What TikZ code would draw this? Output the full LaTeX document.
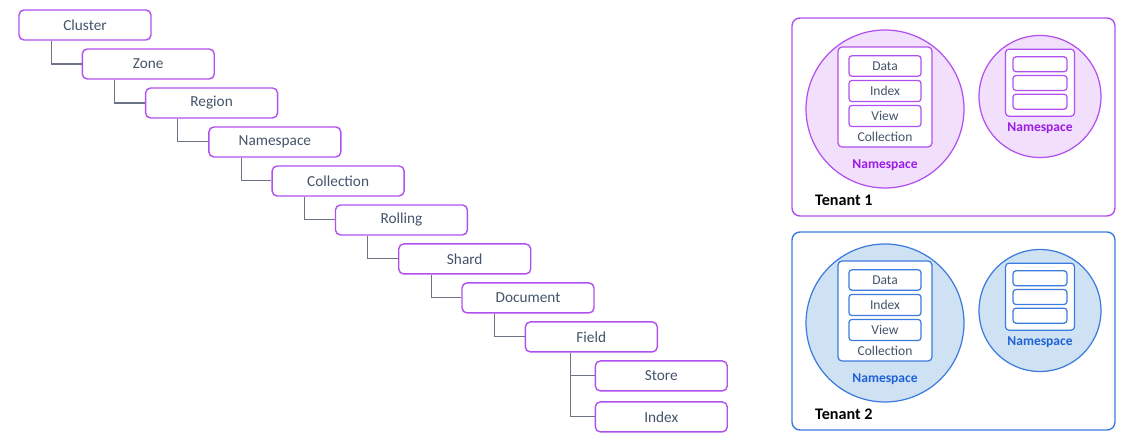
\documentclass[tikz,border=0pt]{standalone}
\usepackage{fontspec}
\setmainfont{Carlito}
\usetikzlibrary{positioning}

\definecolor{purpdraw}{HTML}{B150F0}
\definecolor{purpfill}{HTML}{F1DFFB}
\definecolor{purptext}{HTML}{9B1BE6}
\definecolor{bludraw}{HTML}{3C7BDE}
\definecolor{blufill}{HTML}{CFE2F3}
\definecolor{blutext}{HTML}{1F62D9}
\definecolor{labelgray}{HTML}{44546A}
\definecolor{linegray}{HTML}{6B7385}

\begin{document}
\begin{tikzpicture}[
    x=0.02cm, y=-0.02cm,
    node distance=0.78cm and 1.266cm,
    on grid,
    level/.style={draw=purpdraw, line width=0.8pt, rounded corners=0.1cm, fill=white,
        minimum width=2.64cm, minimum height=0.6cm, font=\fontsize{8.7}{10}\selectfont, text=labelgray},
    link/.style={draw=linegray, line width=0.6pt},
    tenant/.style={line width=0.8pt, rounded corners=0.16cm},
    part/.style={line width=0.7pt, rounded corners=0.06cm, fill=white,
        font=\fontsize{7.7}{9}\selectfont, text=labelgray},
    nslabel/.style={font=\fontsize{7.7}{9}\selectfont\bfseries}
]
   \useasboundingbox (0,0) rectangle (1132,445);

   % Hierarchy
   \node[level] (cluster) at (85,25) {Cluster};
   \node[level] (zone) [below right=of cluster] {Zone};
   \node[level] (region) [below right=of zone] {Region};
   \node[level] (namespace) [below right=of region] {Namespace};
   \node[level] (collection) [below right=of namespace] {Collection};
   \node[level] (rolling) [below right=of collection] {Rolling};
   \node[level] (shard) [below right=of rolling] {Shard};
   \node[level] (document) [below right=of shard] {Document};
   \node[level] (field) [below right=of document] {Field};
   \node[level] (store) [below right=0.78cm and 1.4cm of field] {Store};
   \node[level] (index) [below=0.82cm of store] {Index};

   % Links parent -> child
   \foreach \a/\b in {cluster/zone, zone/region, region/namespace, namespace/collection,
                      collection/rolling, rolling/shard, shard/document, document/field}
      \draw[link] ([xshift=0.66cm]\a.south west) |- (\b.west);
   \draw[link] ([xshift=0.91cm]field.south west) |- (store.west);
   \draw[link] ([xshift=0.91cm]field.south west) |- (index.west);

   % Tenants
   \foreach \t/\dy/\c in {1/0/purp, 2/214/blu} {
      \begin{scope}[yshift=-\dy*0.02cm]
         \draw[tenant, draw=\c draw] (792,18) rectangle (1115,216);
         \node[anchor=west, font=\fontsize{9.2}{10}\selectfont\bfseries] (tlabel\t) at (809,200) {Tenant \t};

         % large namespace
         \node[circle, draw=\c draw, fill=\c fill, line width=0.7pt, minimum size=3.16cm] (nsa\t) at (885,109) {};
         \node[draw=\c draw, line width=0.7pt, rounded corners=0.08cm, fill=white,
               minimum width=1.88cm, minimum height=2cm] (coll\t) at (885,97) {};
         \node[part, draw=\c draw, minimum width=1.44cm, minimum height=0.4cm] (data\t) at (885,66) {Data};
         \node[part, draw=\c draw, minimum width=1.44cm, minimum height=0.4cm] (idx\t) at (885,91) {Index};
         \node[part, draw=\c draw, minimum width=1.44cm, minimum height=0.4cm] (view\t) at (885,116) {View};
         \node[font=\fontsize{7.7}{9}\selectfont, text=labelgray] (colllabel\t) at (885,137) {Collection};
         \node[nslabel, text=\c text] (nsalabel\t) at (885,165) {Namespace};

         % small namespace
         \node[circle, draw=\c draw, fill=\c fill, line width=0.7pt, minimum size=2.44cm] (nsb\t) at (1040,96.5) {};
         \node[draw=\c draw, line width=0.7pt, rounded corners=0.07cm, fill=white,
               minimum width=1.38cm, minimum height=1.34cm] (collb\t) at (1040,82.7) {};
         \foreach \r/\y in {a/64.3, b/83, c/101.7}
            \node[part, draw=\c draw, minimum width=1.08cm, minimum height=0.3cm] (row\t\r) at (1040,\y) {};
         \node[nslabel, text=\c text] (nsblabel\t) at (1040,128) {Namespace};
      \end{scope}
   }
\end{tikzpicture}
\end{document}
